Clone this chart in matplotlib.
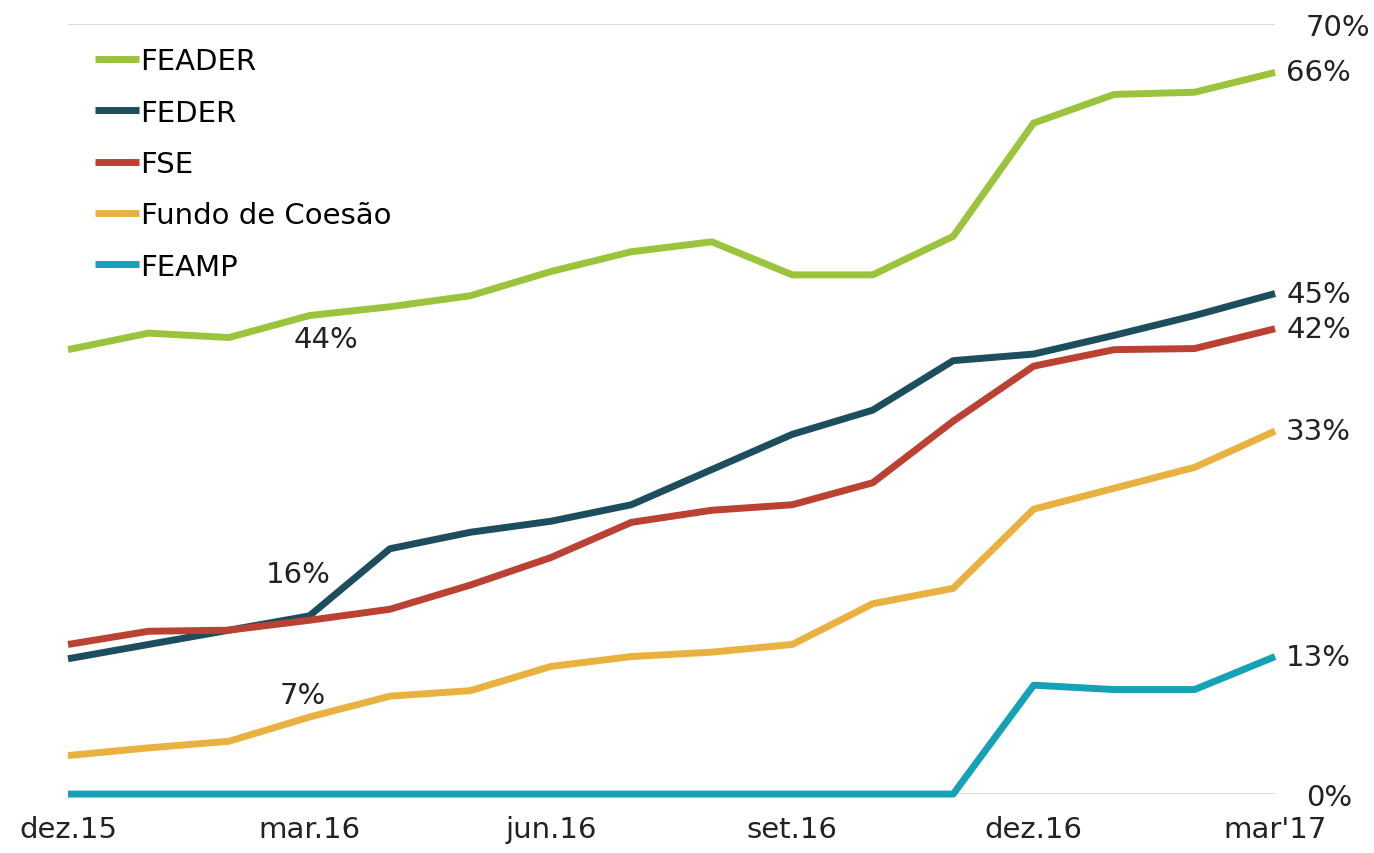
import numpy as np
import matplotlib.pyplot as plt

plt.rcParams['font.family'] = ['DejaVu Sans']

meses = ['dez.15', 'jan', 'fev', 'mar.16', 'abr', 'mai', 'jun.16', 'jul', 'ago',
         'set.16', 'out', 'nov', 'dez.16', 'jan', 'fev', "mar'17"]
rotulos_x = ['dez.15', 'mar.16', 'jun.16', 'set.16', 'dez.16', "mar'17"]

feader = [40.4, 41.9, 41.5, 43.5, 44.3, 45.3, 47.5, 49.3, 50.2, 47.2, 47.2, 50.7, 61.0, 63.6, 63.8, 65.6]
feder = [12.3, 13.6, 14.9, 16.2, 22.3, 23.8, 24.8, 26.3, 29.5, 32.7, 34.9, 39.4, 40.0, 41.7, 43.5, 45.5]
fse = [13.6, 14.8, 14.9, 15.8, 16.8, 19.0, 21.5, 24.7, 25.8, 26.3, 28.3, 33.9, 38.9, 40.4, 40.5, 42.3]
coesao = [3.5, 4.2, 4.8, 7.0, 8.9, 9.4, 11.6, 12.5, 12.9, 13.6, 17.3, 18.7, 25.9, 27.8, 29.7, 33.0]
feamp = [0, 0, 0, 0, 0, 0, 0, 0, 0, 0, 0, 0, 9.9, 9.5, 9.5, 12.5]

series = [('FEADER', feader, '#9bc43c'),
          ('FEDER', feder, '#1d4e5e'),
          ('FSE', fse, '#bb4233'),
          ('Fundo de Coesão', coesao, '#e9b240'),
          ('FEAMP', feamp, '#16a2b6')]

rotulos_fim = ['66%', '45%', '42%', '33%', '13%']

x = np.arange(len(meses))

fig = plt.figure(figsize=(13.74, 8.54), dpi=100)
ax = fig.add_axes([0.0495, 0.069, 0.8785, 0.9017])

# linhas de grelha 0% e 70%
ax.axhline(0, color='#d9d9d9', lw=1.5, zorder=1)
ax.axhline(70, color='#d9d9d9', lw=1.5, zorder=1)

for (nome, y, cor) in series:
    ax.plot(x, y, color=cor, lw=5, label=nome, solid_capstyle='butt',
            solid_joinstyle='round', clip_on=False, zorder=3)

# valores finais
for (nome, y, cor), txt in zip(series, rotulos_fim):
    ax.annotate(txt, xy=(x[-1], y[-1]), xytext=(8, 0), textcoords='offset points',
                va='center', ha='left', fontsize=21, color='#222222')

# valores em mar.16
ax.annotate('44%', xy=(3, feader[3]), xytext=(12, -17), textcoords='offset points',
            ha='center', va='center', fontsize=21, color='#222222')
ax.annotate('16%', xy=(3, feder[3]), xytext=(-8, 30), textcoords='offset points',
            ha='center', va='center', fontsize=21, color='#222222')
ax.annotate('7%', xy=(3, coesao[3]), xytext=(-5, 16), textcoords='offset points',
            ha='center', va='center', fontsize=21, color='#222222')

ax.set_xlim(0, 15)
ax.set_ylim(0, 70)
ax.set_xticks([i for i, m in enumerate(meses) if m in rotulos_x])
ax.set_xticklabels(rotulos_x)
ax.yaxis.tick_right()
ax.set_yticks([0, 70])
ax.set_yticklabels(['0%', '70%'])
ax.tick_params(axis='both', length=0, labelsize=21, colors='#222222')
ax.tick_params(axis='x', pad=15)
ax.tick_params(axis='y', pad=22)
for s in ax.spines.values():
    s.set_visible(False)

leg = ax.legend(loc='upper left', bbox_to_anchor=(0.013, 0.985), frameon=False,
                fontsize=21, handlelength=1.5, handletextpad=0.05, labelspacing=0.8,
                borderaxespad=0)

fig.savefig('out.png', dpi=100)
